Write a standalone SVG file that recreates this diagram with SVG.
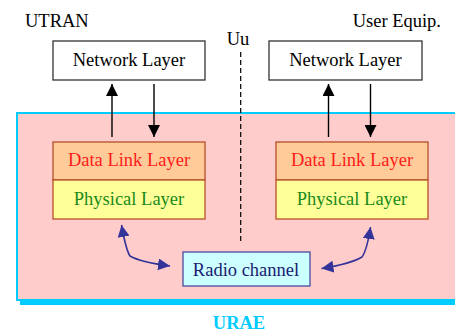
<svg xmlns="http://www.w3.org/2000/svg" width="455" height="333" viewBox="0 0 455 333" font-family="'Liberation Serif', 'Times New Roman', serif">
<style>
text{font-family:'Liberation Serif','Times New Roman',serif;font-size:18.5px;text-anchor:middle}
.box{fill:#fff;stroke:#333;stroke-width:1.3}
.dl{fill:#FFCC99;stroke:#B5502A;stroke-width:1.3}
.ph{fill:#FFFF99;stroke:#B5502A;stroke-width:1.3}
.dlt{fill:#FF1A1A}
.pht{fill:#1A8A1A}
.radio{fill:#CCFFFF;stroke:#4A4AA0;stroke-width:1.3}
.rt{fill:#1A1A70}
.blk{stroke:#000;stroke-width:1.4;fill:none}
.blue{stroke:#333399;stroke-width:1.6;fill:none}
</style>
<defs>
<marker id="ah" markerUnits="userSpaceOnUse" markerWidth="12" markerHeight="12" refX="12" refY="6" orient="auto"><path d="M0,0 L12,6 L0,12 z" fill="#000"/></marker>
<marker id="bh" markerUnits="userSpaceOnUse" markerWidth="13" markerHeight="12" refX="12" refY="6" orient="auto-start-reverse"><path d="M0,0 L12,6 L0,12 z" fill="#333399"/></marker>
</defs>
<g id="urae-area">
<rect x="20" y="117" width="440" height="188" fill="#00CCFF"/>
<rect x="17" y="113" width="445" height="187" fill="#FFCCCC" stroke="#00CCFF" stroke-width="2"/>
<text x="239" y="329" font-weight="bold" fill="#00CCFF">URAE</text>
</g>
<g id="labels">
<text x="25" y="27" text-anchor="start" style="text-anchor:start">UTRAN</text>
<text x="441" y="27" text-anchor="end" style="text-anchor:end">User Equip.</text>
<text x="238" y="45">Uu</text>
</g>
<g id="utran-network">
<rect class="box" x="53" y="41" width="152" height="39"/>
<text x="129" y="66">Network Layer</text>
</g>
<g id="ue-network">
<rect class="box" x="269" y="41" width="153" height="39"/>
<text x="345.5" y="66">Network Layer</text>
</g>
<g id="utran-datalink">
<rect class="dl" x="53" y="142" width="152" height="38"/>
<text class="dlt" x="129" y="166">Data Link Layer</text>
</g>
<g id="utran-physical">
<rect class="ph" x="53" y="180" width="152" height="39"/>
<text class="pht" x="129" y="205">Physical Layer</text>
</g>
<g id="ue-datalink">
<rect class="dl" x="276" y="142" width="152" height="38"/>
<text class="dlt" x="352" y="166">Data Link Layer</text>
</g>
<g id="ue-physical">
<rect class="ph" x="276" y="180" width="152" height="39"/>
<text class="pht" x="352" y="205">Physical Layer</text>
</g>
<g id="radio-channel">
<rect class="radio" x="183" y="252" width="127" height="34"/>
<text class="rt" x="246" y="276">Radio channel</text>
</g>
<g id="connectors">
<line x1="240.7" y1="52" x2="240.7" y2="243" stroke="#000" stroke-width="1.2" stroke-dasharray="5,3"/>
<line class="blk" x1="112" y1="137" x2="112" y2="84" marker-end="url(#ah)"/>
<line class="blk" x1="154" y1="84" x2="154" y2="137" marker-end="url(#ah)"/>
<line class="blk" x1="328.5" y1="137" x2="328.5" y2="84" marker-end="url(#ah)"/>
<line class="blk" x1="370.5" y1="84" x2="370.5" y2="137" marker-end="url(#ah)"/>
<path class="blue" d="M121.5,225 Q126,250 130,256 Q140,262 170,266" marker-start="url(#bh)" marker-end="url(#bh)"/>
<path class="blue" d="M370.5,227 Q367,250 362,257 Q350,264 321.5,268.5" marker-start="url(#bh)" marker-end="url(#bh)"/>
</g>
</svg>
